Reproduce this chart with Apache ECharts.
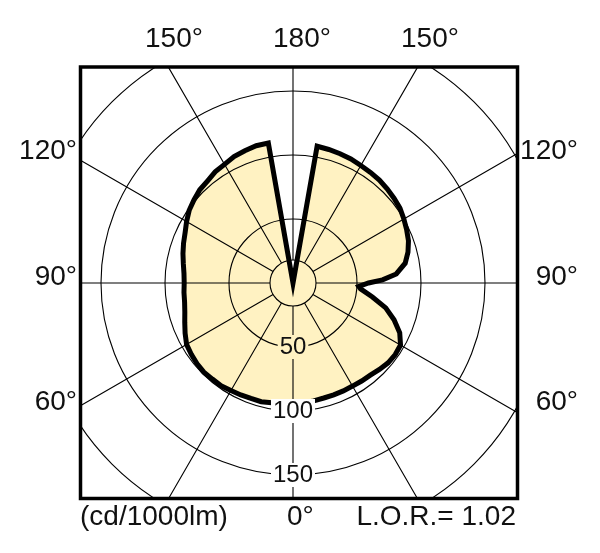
<!DOCTYPE html>
<html>
<head>
<meta charset="utf-8">
<script src="https://cdn.jsdelivr.net/npm/echarts@6/dist/echarts.min.js"></script>
<style>
  html, body { margin: 0; padding: 0; background: #fff; }
  #chart { width: 600px; height: 553px; }
</style>
</head>
<body>
<div id="chart"></div>
<script>
// luminous intensity, cd/1000lm, gamma measured from the bottom (0 deg)
// right half of the diagram
const rightGamma = [0, 5, 10, 15, 20, 25, 30, 35, 40, 45, 50, 55, 60, 65, 70, 75, 80, 85, 87, 90, 92, 95, 100, 105, 110, 115, 120, 125, 130, 135, 140, 145, 150, 155, 160, 165, 170, 180];
const rightCd = [94, 94, 93.5, 93, 93, 93, 93, 93.5, 94, 95.5, 97, 97.5, 97, 92, 84, 75, 63, 53, 51.5, 59, 70, 81, 89, 93, 96, 98, 100, 102, 103, 104, 105, 105.5, 106, 107, 107.5, 108, 108.5, 0];
// left half of the diagram
const leftGamma = [0, 5, 10, 15, 20, 25, 30, 35, 40, 45, 50, 55, 60, 65, 70, 75, 80, 85, 90, 95, 100, 105, 110, 115, 120, 125, 130, 135, 140, 145, 150, 155, 160, 165, 170, 180];
const leftCd = [94, 94.5, 95, 96, 96, 96.5, 97, 98, 98, 98.5, 98, 97, 96, 93, 90, 87.5, 86, 85.5, 85, 85.5, 87, 89, 91, 93, 96, 99, 101, 103, 104, 106, 107, 109, 110, 111, 111, 0];

const radiusMax = 250;
const radiusStep = 50;
const topLabels = ["150°", "180°", "150°"];
const sideLabels = ["120°", "90°", "60°"];
const bottomLabels = ["(cd/1000lm)", "0°", "L.O.R.= 1.02"];

const FONT = "Liberation Sans, Arial, sans-serif";
const FILL = "#fff2c2";
const cx = 293;
const cy = 283;
const pxPerCd = 1.28;

// build the closed outline: right side goes 0 -> 180, left side comes back 180 -> 0
const curve = [];
rightGamma.forEach((g, i) => curve.push([rightCd[i], g]));
for (let i = leftGamma.length - 1; i >= 0; i--) {
  curve.push([leftCd[i], 360 - leftGamma[i]]);
}

const chart = echarts.init(document.getElementById("chart"), null, { renderer: "canvas" });

const hiddenAxis = {
  axisLine: { show: false },
  axisTick: { show: false },
  axisLabel: { show: false },
  splitLine: { show: false },
};

const gridLine = { show: true, lineStyle: { color: "#000", width: 1.1 } };

const box = { x: 80.5, y: 67, w: 437, h: 431.5 };

const textItem = (text, x, y, align) => ({
  type: "text",
  z: 120,
  x: x,
  y: y,
  style: {
    text: text,
    fill: "#111",
    font: "28px " + FONT,
    align: align,
    verticalAlign: "middle",
  },
});

chart.setOption({
  animation: false,
  backgroundColor: "#fff",
  polar: [
    { center: [cx, cy], radius: [0, radiusMax * pxPerCd] },
    { center: [cx, cy], radius: [23, radiusMax * pxPerCd] },
  ],
  angleAxis: [
    {
      polarIndex: 0,
      type: "value",
      min: 0,
      max: 360,
      startAngle: 270,
      clockwise: false,
      ...hiddenAxis,
    },
    {
      polarIndex: 1,
      type: "value",
      min: 0,
      max: 360,
      interval: 30,
      startAngle: 270,
      clockwise: false,
      z: 3,
      axisLine: { show: false },
      axisTick: { show: false },
      axisLabel: { show: false },
      splitLine: gridLine,
    },
  ],
  radiusAxis: [
    {
      polarIndex: 0,
      type: "value",
      min: 0,
      max: radiusMax,
      interval: radiusStep,
      z: 4,
      axisLine: { show: false },
      axisTick: { show: false },
      splitLine: gridLine,
      axisLabel: {
        show: true,
        margin: 0,
        rotate: 0,
        align: "center",
        verticalAlign: "middle",
        fontSize: 24,
        fontFamily: FONT,
        color: "#111",
        formatter: (v) => {
          if (v <= 0 || v >= 200) return "";
          return v < 75 ? "{in|" + v + "}" : "{out|" + v + "}";
        },
        rich: {
          in: { fontSize: 24, fontFamily: FONT, color: "#111", backgroundColor: FILL, padding: [0, 2], lineHeight: 24 },
          out: { fontSize: 24, fontFamily: FONT, color: "#111", backgroundColor: "#fff", padding: [0, 2], lineHeight: 24 },
        },
      },
    },
    {
      polarIndex: 1,
      type: "value",
      min: 0,
      max: 1,
      interval: 1,
      z: 3,
      axisLine: { show: false },
      axisTick: { show: false },
      axisLabel: { show: false },
      splitLine: gridLine,
    },
  ],
  series: [
    {
      name: "fill",
      type: "line",
      coordinateSystem: "polar",
      polarIndex: 0,
      z: 1,
      symbol: "none",
      silent: true,
      lineStyle: { width: 0, opacity: 0 },
      areaStyle: { color: FILL, opacity: 1 },
      data: curve,
    },
    {
      name: "outline",
      type: "line",
      coordinateSystem: "polar",
      polarIndex: 0,
      z: 2,
      symbol: "none",
      silent: true,
      lineStyle: { color: "#000", width: 5, join: "miter" },
      data: curve,
    },
  ],
  graphic: [
    // white mask outside the frame
    { type: "rect", z: 100, shape: { x: 0, y: 0, width: 600, height: box.y }, style: { fill: "#fff" } },
    { type: "rect", z: 100, shape: { x: 0, y: box.y + box.h, width: 600, height: 553 - box.y - box.h }, style: { fill: "#fff" } },
    { type: "rect", z: 100, shape: { x: 0, y: 0, width: box.x, height: 553 }, style: { fill: "#fff" } },
    { type: "rect", z: 100, shape: { x: box.x + box.w, y: 0, width: 600 - box.x - box.w, height: 553 }, style: { fill: "#fff" } },
    {
      type: "rect",
      z: 110,
      shape: { x: box.x, y: box.y, width: box.w, height: box.h },
      style: { fill: "none", stroke: "#000", lineWidth: 3.5 },
    },
    textItem(topLabels[0], 174, 39, "center"),
    textItem(topLabels[1], 302, 39, "center"),
    textItem(topLabels[2], 430, 39, "center"),
    textItem(sideLabels[0], 77, 151, "right"),
    textItem(sideLabels[1], 77, 277, "right"),
    textItem(sideLabels[2], 77, 402, "right"),
    textItem(sideLabels[0], 578, 151, "right"),
    textItem(sideLabels[1], 578, 277, "right"),
    textItem(sideLabels[2], 578, 402, "right"),
    textItem(bottomLabels[0], 80, 517, "left"),
    textItem(bottomLabels[1], 287, 517, "left"),
    textItem(bottomLabels[2], 516, 517, "right"),
  ],
});
</script>
</body>
</html>
